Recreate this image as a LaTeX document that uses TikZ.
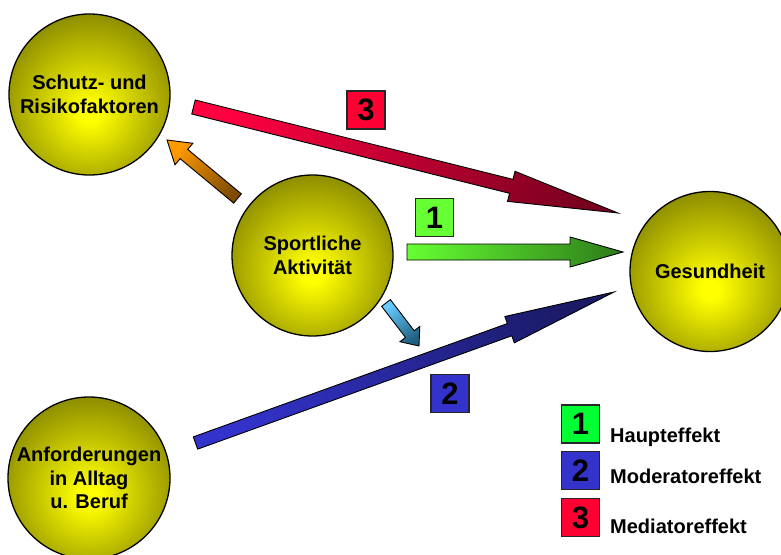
\documentclass[tikz,border=0pt]{standalone}
\usepackage{fontspec}
\setmainfont{Liberation Sans}
\usetikzlibrary{calc}
\definecolor{ballin}{HTML}{FFFF00}
\definecolor{ballmid}{HTML}{8C8C00}
\definecolor{ballout}{HTML}{727200}
\definecolor{boxred}{HTML}{FF0033}
\definecolor{boxgreen}{HTML}{66FF33}
\definecolor{leggreen}{HTML}{00FF33}
\definecolor{boxblue}{HTML}{3333CC}
\definecolor{redA}{HTML}{FF0040}
\definecolor{redB}{HTML}{7A0020}
\definecolor{greenA}{HTML}{66FF33}
\definecolor{greenB}{HTML}{2D7A1A}
\definecolor{blueA}{HTML}{3333CC}
\definecolor{blueB}{HTML}{1A1A66}
\definecolor{orangeA}{HTML}{7F4C00}
\definecolor{orangeB}{HTML}{FF9900}
\definecolor{skyA}{HTML}{66CCFF}
\definecolor{skyB}{HTML}{1F5F7F}
\pgfdeclareradialshading{ballshade}{\pgfpoint{0bp}{-6bp}}{color(0bp)=(ballin); color(3bp)=(ballin); color(29bp)=(ballmid); color(44bp)=(ballout); color(70bp)=(ballout)}
\tikzset{
  ball/.style={circle, draw=black, line width=1.3pt, inner sep=0pt,
    minimum size=161pt, shading=ballshade,
    align=center, font=\fontsize{20}{23.5}\selectfont\bfseries},
  blockline/.style={draw=black, line width=0.9pt, line join=miter},
  numbox/.style={draw=black!85, line width=1.2pt, minimum size=38pt, inner sep=0pt,
    font=\fontsize{31}{31}\selectfont\bfseries},
  legtext/.style={anchor=base west, inner sep=0pt, font=\fontsize{20}{24}\selectfont\bfseries}
}
% #1 tail, #2 tip, #3 shaft half width, #4 head half width, #5 head length, #6 tail colour, #7 tip colour
\newcommand\BlkArrow[7]{%
  \coordinate (#1b) at ($(#2)!#5!(#1)$);
  \path let \p1=(#1), \p2=(#2), \n1={atan2(\y2-\y1,\x2-\x1)+90} in \pgfextra{\xdef\baang{\n1}};
  \shade[blockline, left color=#6, right color=#7, shading angle=\baang]
    ($(#1)!#3!90:(#2)$) -- ($(#1b)!#3!90:(#2)$) -- ($(#1b)!#4!90:(#2)$) -- (#2)
    -- ($(#1b)!#4!-90:(#2)$) -- ($(#1b)!#3!-90:(#2)$) -- ($(#1)!#3!-90:(#2)$) -- cycle;
}
\begin{document}
\begin{tikzpicture}[x=1pt,y=-1pt]
\clip (0,0) rectangle (781,554);
\fill[white] (0,0) rectangle (781,554);

% circles
\node[ball] (schutz) at (89.5,94.5) {Schutz- und\\Risikofaktoren};
\node[ball] (sport) at (312.5,255.5) {Sportliche\\Aktivit\"at};
\node[ball, minimum size=160pt] (gesund) at (710,271.5) {Gesundheit};
\node[ball, minimum size=162pt] (anford) at (89,478) {Anforderungen\\in Alltag\\u. Beruf};

% arrow end points
\coordinate (rt) at (193.5,107);   \coordinate (rh) at (618,213);
\coordinate (gt) at (407,252);     \coordinate (gh) at (623,252);
\coordinate (bt) at (195.5,443);   \coordinate (bh) at (614,292);
\coordinate (ot) at (237.5,198.5); \coordinate (oh) at (167,140);
\coordinate (st) at (386,303);     \coordinate (sh) at (419,346);

\BlkArrow{rt}{rh}{7.2pt}{15.5pt}{110pt}{redA}{redB}
\BlkArrow{gt}{gh}{8pt}{15pt}{53pt}{greenA}{greenB}
\BlkArrow{bt}{bh}{6.5pt}{14pt}{111pt}{blueA}{blueB}
\BlkArrow{ot}{oh}{6pt}{14pt}{22pt}{orangeA}{orangeB}
\BlkArrow{st}{sh}{5.5pt}{12.5pt}{15pt}{skyA}{skyB}

% number boxes
\node[numbox, fill=boxred] (n3) at (366,110) {3};
\node[numbox, fill=boxgreen] (n1) at (434.5,217.5) {1};
\node[numbox, fill=boxblue] (n2) at (450,393.5) {2};

% legend
\node[numbox, fill=leggreen] (l1) at (580.5,424) {1};
\node[numbox, fill=boxblue] (l2) at (580.5,470.5) {2};
\node[numbox, fill=boxred] (l3) at (580.5,517.5) {3};
\node[legtext] (t1) at (610,442.5) {Haupteffekt};
\node[legtext] (t2) at (610,483) {Moderatoreffekt};
\node[legtext] (t3) at (610,533) {Mediatoreffekt};
\end{tikzpicture}
\end{document}
